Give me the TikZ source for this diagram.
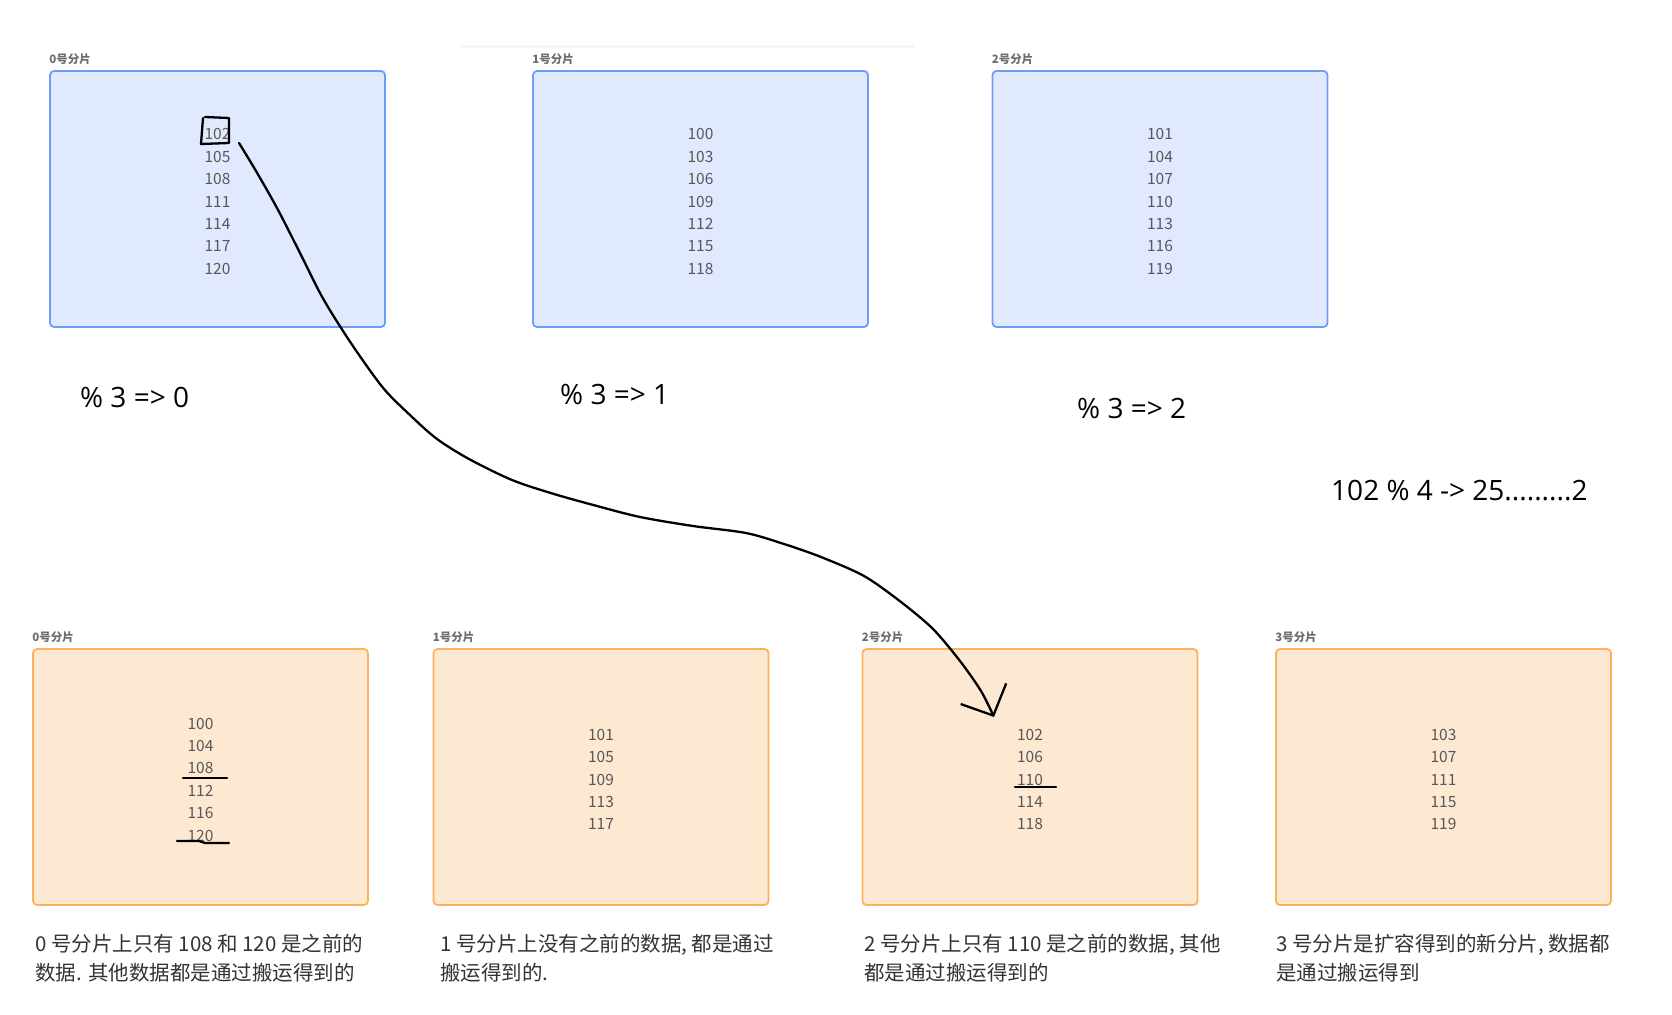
\documentclass[tikz,border=0pt]{standalone}
\usepackage{fontspec}
\setmainfont{Open Sans}
\newfontfamily\cjk{Noto Sans CJK SC}
\usetikzlibrary{arrows.meta,positioning}

\definecolor{oldfill}{HTML}{E0E9FD}
\definecolor{olddraw}{HTML}{6D9EF7}
\definecolor{newfill}{HTML}{FDE8D2}
\definecolor{newdraw}{HTML}{FFB05A}
\definecolor{numgray}{HTML}{585858}
\definecolor{taggray}{HTML}{6E6E6E}
\definecolor{notegray}{HTML}{333333}

\tikzset{
  shard/.style={rectangle, rounded corners=4pt, line width=1.8pt,
    minimum width=335pt, minimum height=256pt, inner sep=0pt},
  oldshard/.style={shard, draw=olddraw, fill=oldfill},
  newshard/.style={shard, draw=newdraw, fill=newfill},
  nums/.style={align=center, text=numgray, inner sep=0pt,
    font=\cjk\fontsize{15.5}{22.4}\selectfont},
  tag/.style={text=taggray, inner sep=0pt, font=\cjk\bfseries\fontsize{11.5}{13}\selectfont},
  modtxt/.style={anchor=west, inner sep=0pt, font=\fontsize{28}{32}\selectfont},
  note/.style={anchor=north west, align=left, text=notegray, inner sep=0pt,
    font=\cjk\fontsize{20.5}{29}\selectfont},
  pen/.style={line width=2.3pt, line cap=round, line join=round},
}

\begin{document}
\begin{tikzpicture}[x=1pt, y=-1pt]
\useasboundingbox (0,0) rectangle (1672,1014);

\draw[black!4, line width=3pt] (461,47) -- (914,47);

% old shards, %3
\node[oldshard](T0) at (217.5,199){};
\node[oldshard](T1) at (700.5,199){};
\node[oldshard](T2) at (1160,199){};
\node[tag, above right=5pt and 0pt of T0.north west](T0tag){0号分片};
\node[tag, above right=5pt and 0pt of T1.north west](T1tag){1号分片};
\node[tag, above right=5pt and 0pt of T2.north west](T2tag){2号分片};
\node[nums](T0n) at (217.5,201.5){102\\105\\108\\111\\114\\117\\120};
\node[nums](T1n) at (700.5,201.5){100\\103\\106\\109\\112\\115\\118};
\node[nums](T2n) at (1160,201.5){101\\104\\107\\110\\113\\116\\119};

\node[modtxt](M0) at (80,397){\% 3 => 0};
\node[modtxt](M1) at (560,394){\% 3 => 1};
\node[modtxt](M2) at (1077,408){\% 3 => 2};
\node[modtxt](M4) at (1331,491){102 \% 4 -> 25.........2};

% new shards, %4
\node[newshard](B0) at (200.5,777){};
\node[newshard](B1) at (601,777){};
\node[newshard](B2) at (1030,777){};
\node[newshard](B3) at (1443.5,777){};
\node[tag, above right=5pt and 0pt of B0.north west](B0tag){0号分片};
\node[tag, above right=5pt and 0pt of B1.north west](B1tag){1号分片};
\node[tag, above right=5pt and 0pt of B2.north west](B2tag){2号分片};
\node[tag, above right=5pt and 0pt of B3.north west](B3tag){3号分片};
\node[nums](B0n) at (200.5,779.5){100\\104\\108\\112\\116\\120};
\node[nums](B1n) at (601,779.5){101\\105\\109\\113\\117};
\node[nums](B2n) at (1030,779.5){102\\106\\110\\114\\118};
\node[nums](B3n) at (1443.5,779.5){103\\107\\111\\115\\119};

\node[note](N0) at (35,934){0 号分片上只有 108 和 120 是之前的\\数据. 其他数据都是通过搬运得到的};
\node[note](N1) at (440,934){1 号分片上没有之前的数据, 都是通过\\搬运得到的.};
\node[note](N2) at (864,934){2 号分片上只有 110 是之前的数据, 其他\\都是通过搬运得到的};
\node[note](N3) at (1276,934){3 号分片是扩容得到的新分片, 数据都\\是通过搬运得到};

% hand marks
\draw[pen] (205,117) -- (229,118) -- (229,143) -- (201,144) -- (203,118);
\draw[pen] (183,778) -- (227,778);
\draw[pen] (177,841) -- (199,841) -- (205,843) -- (229,843);
\draw[pen] (1015,787) -- (1056,787);

\coordinate (mvfrom) at (239,143);
\coordinate (mvto) at (994,717);
\draw[pen, -{Straight Barb[length=24pt,width=50pt]}] plot[smooth, tension=0.5] coordinates
  {(mvfrom) (256,171) (277,208) (299,251) (320,293) (336,320) (357,352) (384,389)
   (411,416) (437,439) (469,459) (512,480) (554,494) (597,506) (640,517) (693,526)
   (746,533) (784,544) (821,557) (864,576) (901,602) (933,629) (960,661) (981,691) (mvto)};
\end{tikzpicture}
\end{document}
